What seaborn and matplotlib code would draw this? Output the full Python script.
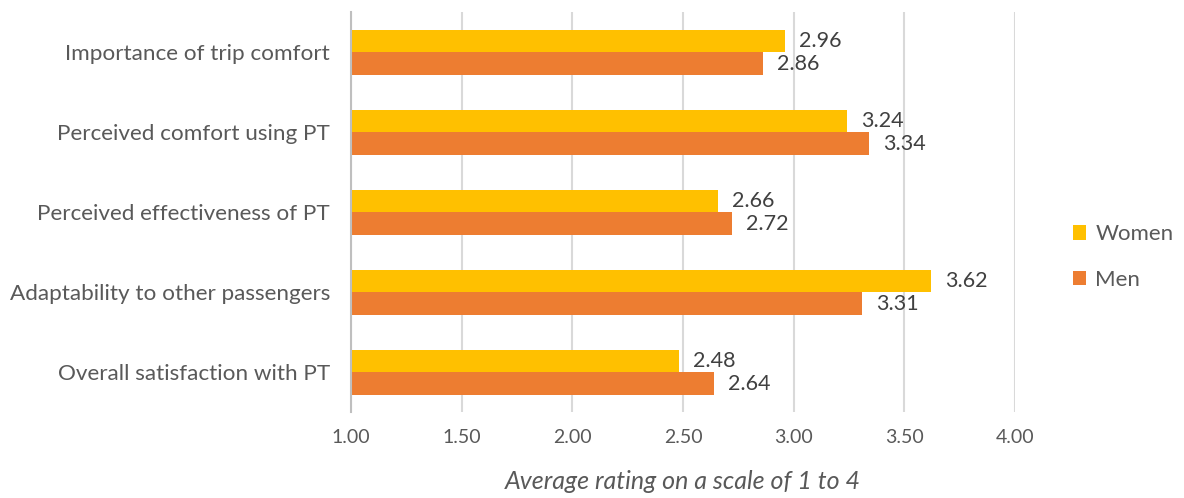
import matplotlib
matplotlib.use("Agg")
import matplotlib.pyplot as plt
import seaborn as sns
import pandas as pd

categories = [
    "Importance of trip comfort",
    "Perceived comfort using PT",
    "Perceived effectiveness of PT",
    "Adaptability to other passengers",
    "Overall satisfaction with PT",
]
women = [2.96, 3.24, 2.66, 3.62, 2.48]
men = [2.86, 3.34, 2.72, 3.31, 2.64]
groups = ["Women", "Men"]
xticks = [1.00, 1.50, 2.00, 2.50, 3.00, 3.50, 4.00]

df = pd.DataFrame({
    "item": categories * 2,
    "group": [groups[0]] * len(categories) + [groups[1]] * len(categories),
    "rating": women + men,
})

sns.set_theme(style="white")
plt.rcParams["font.family"] = ["Lato", "DejaVu Sans"]

fig = plt.figure(figsize=(11.84, 4.98), dpi=100)
ax = fig.add_axes([0.2965, 0.1717, 0.8573 - 0.2965, 0.975 - 0.1717])

palette = {"Women": "#FFC000", "Men": "#ED7D31"}
sns.barplot(data=df, y="item", x="rating", hue="group", order=categories,
            hue_order=groups, palette=palette, orient="h", width=0.5625,
            saturation=1, linewidth=0, ax=ax, legend=True)

ax.set_xlim(1.0, 4.0)
ax.set_xticks(xticks)
ax.set_xticklabels([f"{t:.2f}" for t in xticks])
ax.grid(axis="x", color="#D9D9D9", linewidth=1.5)
ax.set_axisbelow(True)
for s in ["top", "right", "bottom"]:
    ax.spines[s].set_visible(False)
ax.spines["left"].set_color("#BFBFBF")
ax.spines["left"].set_linewidth(1.5)
ax.spines["left"].set_zorder(3)

ax.tick_params(axis="both", length=0, colors="#595959")
ax.tick_params(axis="y", pad=15, labelsize=16.2)
ax.tick_params(axis="x", pad=12, labelsize=14)
ax.set_ylabel("")
ax.set_xlabel("Average rating on a scale of 1 to 4", fontsize=18,
              style="italic", color="#595959", labelpad=17)

for cont in ax.containers:
    ax.bar_label(cont, fmt="%.2f", padding=10, fontsize=15.5, color="#404040")

handles, labels = ax.get_legend_handles_labels()
ax.legend(handles, labels, loc="center left", bbox_to_anchor=(0.889, 0.484),
          bbox_transform=fig.transFigure, frameon=False, fontsize=16,
          handlelength=0.62, handleheight=0.62, handletextpad=0.4,
          labelspacing=1.15, labelcolor="#595959")

fig.savefig("out.png", dpi=100)
